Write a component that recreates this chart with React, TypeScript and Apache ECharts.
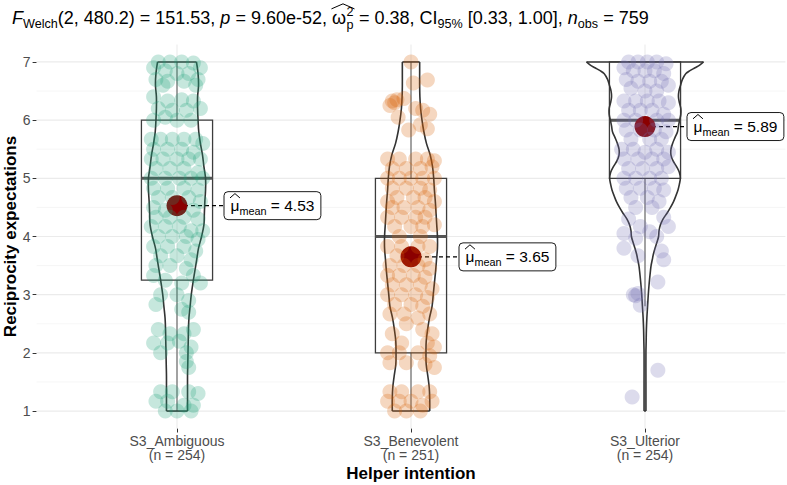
import React, { useEffect, useRef } from 'react';
import * as echarts from 'echarts';

const FONT = '"Liberation Sans", Arial, Helvetica, sans-serif';

const categories = ['S3_Ambiguous', 'S3_Benevolent', 'S3_Ulterior'];
const groupSizes = [254, 251, 254];
const groupColors = ['#1B9E77', '#D95F02', '#7570B3'];
const yTicks = [1, 2, 3, 4, 5, 6, 7];
const yMinorTicks = [1.5, 2.5, 3.5, 4.5, 5.5, 6.5];
const groupMeans = [4.53, 3.65, 5.89];

// [lower whisker, Q1, median, Q3, upper whisker]
const boxAmbiguous = [1, 3.25, 5, 6, 7];
const boxBenevolent = [1, 2, 4, 5, 7];
const boxUlterior = [2.8, 5, 6, 7, 7];

// violin half-width (category units) at each value
const violinAmbiguous = [
  [7.0, 0.083], [6.8, 0.09], [6.6, 0.092], [6.4, 0.088], [6.2, 0.088], [6.0, 0.09], [5.8, 0.093],
  [5.6, 0.1], [5.4, 0.109], [5.2, 0.115], [5.0, 0.122], [4.8, 0.122], [4.6, 0.119], [4.4, 0.117],
  [4.2, 0.115], [4.0, 0.105], [3.8, 0.092], [3.6, 0.084], [3.4, 0.076], [3.2, 0.068], [3.0, 0.061],
  [2.8, 0.056], [2.6, 0.051], [2.4, 0.049], [2.2, 0.048], [2.0, 0.047], [1.8, 0.046], [1.6, 0.045],
  [1.4, 0.045], [1.2, 0.045], [1.0, 0.045],
];
const violinBenevolent = [
  [7.0, 0.037], [6.8, 0.037], [6.6, 0.037], [6.4, 0.038], [6.2, 0.041], [6.0, 0.047], [5.8, 0.055],
  [5.6, 0.066], [5.4, 0.082], [5.2, 0.092], [5.0, 0.097], [4.8, 0.1], [4.6, 0.104], [4.4, 0.107],
  [4.2, 0.11], [4.0, 0.113], [3.8, 0.113], [3.6, 0.109], [3.4, 0.105], [3.2, 0.1], [3.0, 0.095],
  [2.8, 0.09], [2.6, 0.079], [2.4, 0.071], [2.2, 0.065], [2.0, 0.064], [1.8, 0.065], [1.6, 0.072],
  [1.4, 0.078], [1.2, 0.08], [1.0, 0.08],
];
const violinUlterior = [
  [7.0, 0.25], [6.95, 0.235], [6.9, 0.214], [6.85, 0.192], [6.8, 0.175], [6.7, 0.16], [6.6, 0.152],
  [6.5, 0.145], [6.4, 0.143], [6.3, 0.147], [6.2, 0.153], [6.1, 0.153], [6.0, 0.148], [5.9, 0.143],
  [5.8, 0.139], [5.7, 0.128], [5.6, 0.118], [5.5, 0.111], [5.4, 0.111], [5.3, 0.12], [5.2, 0.135],
  [5.1, 0.147], [5.0, 0.151], [4.9, 0.147], [4.8, 0.141], [4.7, 0.132], [4.6, 0.122], [4.5, 0.109],
  [4.4, 0.094], [4.3, 0.077], [4.2, 0.066], [4.1, 0.06], [4.0, 0.058], [3.9, 0.051], [3.8, 0.043],
  [3.7, 0.036], [3.6, 0.031], [3.5, 0.026], [3.4, 0.023], [3.2, 0.018], [3.0, 0.014], [2.8, 0.011],
  [2.6, 0.008], [2.4, 0.006], [2.2, 0.005], [2.0, 0.004], [1.5, 0.004], [1.0, 0.004],
];

// observations: [horizontal jitter (category units), value]
const pointsAmbiguous = [
  [-0.08, 7.0], [-0.03, 7.0], [0.02, 7.0], [0.07, 6.98], [0.1, 6.9], [-0.1, 6.9], [-0.05, 6.85], [0.0, 6.8],
  [0.05, 6.8], [0.09, 6.7], [-0.09, 6.7], [-0.04, 6.67], [0.03, 6.67], [0.08, 6.6], [-0.06, 6.6],
  [-0.1, 6.4], [-0.04, 6.33], [0.02, 6.35], [0.07, 6.33], [0.1, 6.2], [-0.08, 6.2], [-0.02, 6.17], [0.04, 6.17],
  [-0.1, 6.0], [0.06, 6.0], [0.0, 6.0], [-0.05, 6.05],
  [-0.11, 5.67], [-0.07, 5.67], [-0.02, 5.67], [0.03, 5.67], [0.08, 5.67], [0.11, 5.6], [-0.1, 5.5], [-0.04, 5.5],
  [0.02, 5.5], [0.07, 5.45], [-0.11, 5.33], [-0.06, 5.33], [0.0, 5.33], [0.05, 5.33], [0.1, 5.33], [-0.09, 5.17],
  [-0.03, 5.17], [0.03, 5.17], [0.09, 5.1], [-0.11, 5.0], [-0.05, 5.0], [0.01, 5.0], [0.06, 5.0], [0.11, 5.0],
  [-0.1, 4.83], [-0.04, 4.83], [0.03, 4.83], [0.09, 4.8], [-0.08, 4.67], [-0.02, 4.67], [0.05, 4.67], [0.1, 4.6],
  [-0.1, 4.5], [-0.05, 4.45], [0.07, 4.45], [-0.09, 4.33], [-0.03, 4.33], [0.03, 4.33], [0.09, 4.3], [-0.11, 4.17],
  [-0.05, 4.17], [0.01, 4.17], [0.06, 4.1], [0.11, 4.1], [-0.08, 4.0], [-0.02, 4.0], [0.04, 4.0], [0.09, 3.95],
  [-0.1, 3.83], [-0.04, 3.83], [0.03, 3.83], [0.08, 3.75], [-0.07, 3.67], [0.0, 3.67], [0.06, 3.6], [-0.09, 3.5],
  [-0.03, 3.5], [0.04, 3.45], [-0.1, 3.33], [0.07, 3.33], [-0.05, 3.25], [0.02, 3.2], [0.1, 3.2], [-0.07, 3.0],
  [0.0, 3.0], [0.05, 2.9], [-0.09, 2.83], [0.02, 2.75], [0.05, 2.7],
  [-0.08, 2.4], [-0.03, 2.33], [0.03, 2.33], [0.07, 2.4], [-0.1, 2.17], [-0.04, 2.17], [0.01, 2.2], [0.06, 2.1],
  [-0.07, 2.0], [0.04, 2.0], [0.04, 1.85], [0.05, 1.75],
  [-0.07, 1.33], [-0.02, 1.33], [0.05, 1.33], [0.09, 1.3], [-0.09, 1.17], [-0.04, 1.17], [0.03, 1.1], [0.07, 1.1],
  [-0.05, 1.0], [0.0, 1.0], [0.06, 1.0],
];
const pointsBenevolent = [
  [0.0, 7.0], [0.01, 6.64], [0.07, 6.69], [-0.08, 6.33], [-0.07, 6.3], [-0.09, 6.25], [-0.06, 6.35], [-0.03, 6.37],
  [0.02, 6.2], [0.05, 6.17], [0.08, 6.1], [-0.055, 6.05], [-0.01, 5.83], [0.07, 5.85], [0.04, 5.92],
  [-0.1, 5.33], [-0.05, 5.33], [0.02, 5.33], [0.07, 5.33], [0.1, 5.3], [-0.08, 5.17], [-0.02, 5.17], [0.04, 5.17],
  [0.09, 5.2], [-0.1, 5.0], [-0.05, 5.0], [0.0, 5.0], [0.05, 5.0], [0.1, 5.0],
  [-0.08, 4.83], [-0.02, 4.83], [0.04, 4.83], [0.08, 4.8], [-0.06, 4.67], [0.01, 4.67], [0.06, 4.67], [-0.1, 4.6],
  [0.1, 4.6], [-0.08, 4.5], [-0.03, 4.5], [0.03, 4.5], [0.08, 4.45], [-0.1, 4.33], [-0.04, 4.33], [0.02, 4.33],
  [0.06, 4.33], [-0.07, 4.17], [0.0, 4.17], [0.05, 4.17], [0.1, 4.2], [-0.05, 4.0], [0.04, 4.0],
  [-0.1, 3.83], [-0.04, 3.83], [0.03, 3.83], [0.08, 3.83], [-0.06, 3.67], [0.06, 3.6], [-0.09, 3.5], [-0.03, 3.5],
  [0.03, 3.5], [0.08, 3.45], [-0.1, 3.33], [-0.05, 3.33], [0.01, 3.33], [0.06, 3.3], [-0.08, 3.17], [-0.02, 3.17],
  [0.04, 3.17], [0.09, 3.1], [-0.1, 3.0], [-0.04, 3.0], [0.02, 3.0], [0.07, 2.95], [-0.07, 2.83], [0.0, 2.83],
  [0.05, 2.8], [-0.09, 2.67], [-0.03, 2.67], [0.03, 2.6], [0.08, 2.67],
  [-0.02, 2.5], [0.05, 2.4], [0.09, 2.33], [-0.08, 2.33], [-0.04, 2.17], [0.07, 2.17], [0.1, 2.1], [-0.1, 2.0],
  [-0.05, 2.0], [0.03, 2.0], [0.08, 1.95], [-0.09, 1.83], [-0.02, 1.83], [0.06, 1.8], [0.1, 1.75],
  [-0.09, 1.33], [-0.04, 1.33], [0.03, 1.33], [0.08, 1.33], [-0.1, 1.17], [-0.05, 1.17], [0.0, 1.17], [0.05, 1.1],
  [0.09, 1.17], [-0.07, 1.0], [-0.02, 1.0], [0.04, 1.0],
];
const pointsUlterior = [
  [-0.07, 7.0], [-0.03, 7.0], [0.01, 7.0], [0.05, 7.0], [0.09, 6.97], [-0.09, 6.9], [-0.05, 6.85], [0.0, 6.85],
  [0.04, 6.85], [0.08, 6.8], [-0.08, 6.7], [-0.03, 6.67], [0.02, 6.67], [0.07, 6.67], [0.1, 6.6], [-0.06, 6.55],
  [0.0, 6.5], [0.05, 6.5],
  [-0.09, 6.33], [-0.04, 6.33], [0.01, 6.33], [0.06, 6.33], [0.1, 6.3], [-0.07, 6.17], [-0.02, 6.17], [0.03, 6.17],
  [0.08, 6.1], [-0.09, 6.0], [-0.04, 6.0], [0.05, 6.0], [0.1, 6.0],
  [-0.08, 5.83], [-0.02, 5.83], [0.04, 5.83], [0.09, 5.8], [-0.06, 5.67], [0.02, 5.67], [0.07, 5.67],
  [-0.1, 5.5], [-0.05, 5.5], [0.0, 5.45], [0.05, 5.5], [0.1, 5.45], [-0.09, 5.33], [-0.03, 5.33], [0.03, 5.33],
  [0.08, 5.33], [-0.07, 5.17], [-0.01, 5.17], [0.05, 5.17], [0.1, 5.2], [-0.09, 5.0], [-0.04, 5.0], [0.02, 5.0],
  [0.07, 5.0],
  [-0.08, 4.83], [-0.02, 4.83], [0.04, 4.83], [0.08, 4.8], [-0.06, 4.67], [0.01, 4.67], [0.06, 4.6], [-0.04, 4.5],
  [0.03, 4.5],
  [-0.07, 4.3], [0.08, 4.33], [-0.02, 4.17], [0.1, 4.17], [-0.09, 4.05], [0.05, 4.0], [-0.04, 3.97], [0.02, 4.08],
  [-0.09, 3.8], [0.07, 3.75], [-0.03, 3.67], [0.08, 3.6],
  [0.055, 3.22], [-0.05, 3.0], [-0.04, 2.98], [-0.03, 3.02], [-0.02, 2.82], [0.055, 1.7], [-0.055, 1.24],
];

const statDf = '2, 480.2';
const statF = '151.53';
const statP = '9.60e-52';
const statOmega = '0.38';
const statCI = '[0.33, 1.00]';
const nObs = 759;

const boxes = [boxAmbiguous, boxBenevolent, boxUlterior];
const violins = [violinAmbiguous, violinBenevolent, violinUlterior];
const pointSets = [pointsAmbiguous, pointsBenevolent, pointsUlterior];
const labelNudge = [47, 48, 42];

let measureCtx: CanvasRenderingContext2D | null = null;
function textWidth(t: string, size: number, italic = false) {
  if (!measureCtx) measureCtx = document.createElement('canvas').getContext('2d');
  measureCtx!.font = `${italic ? 'italic ' : ''}${size}px ${FONT}`;
  return measureCtx!.measureText(t).width;
}

type Run = { t?: string; it?: boolean; sub?: boolean; stack?: [string, string]; hatStart?: boolean; hatEnd?: boolean };

function txt(t: string, x: number, baseline: number, s: number, italic: boolean, color: string) {
  return {
    type: 'text',
    x,
    y: baseline - 0.3465 * s,
    silent: true,
    style: {
      text: t,
      font: `${italic ? 'italic ' : ''}${s}px ${FONT}`,
      fill: color,
      align: 'left',
      verticalAlign: 'middle',
    },
  };
}

function mathElements(runs: Run[], x0: number, baseline: number, fs: number, color: string) {
  const els: any[] = [];
  let x = x0;
  let hatX0 = x0;
  for (const r of runs) {
    if (r.hatStart) hatX0 = x;
    if (r.stack) {
      const s = fs * 0.7;
      const w = Math.max(textWidth(r.stack[0], s), textWidth(r.stack[1], s));
      els.push(txt(r.stack[0], x + 0.5, baseline - fs * 0.42, s, false, color));
      els.push(txt(r.stack[1], x + 0.5, baseline + fs * 0.28, s, false, color));
      x += w + 1;
    } else {
      const s = r.sub ? fs * 0.7 : fs;
      const b = r.sub ? baseline + fs * 0.25 : baseline;
      els.push(txt(r.t || '', x, b, s, !!r.it, color));
      x += textWidth(r.t || '', s, !!r.it);
    }
    if (r.hatEnd) {
      els.push({
        type: 'polyline',
        silent: true,
        shape: {
          points: [
            [hatX0 - 0.5, baseline - fs * 0.84],
            [(hatX0 + x) / 2, baseline - fs * 1.12],
            [x + 0.5, baseline - fs * 0.84],
          ],
        },
        style: { stroke: color, lineWidth: 1, fill: 'none' },
      });
    }
  }
  return { els, width: x - x0 };
}

export default function App() {
  const ref = useRef<HTMLDivElement>(null);
  useEffect(() => {
    document.body.style.margin = '0';
    const chart = echarts.init(ref.current!, undefined, { renderer: 'svg' });

    const titleRuns: Run[] = [
      { t: 'F', it: true },
      { t: 'Welch', sub: true },
      { t: `(${statDf}) = ${statF}, ` },
      { t: 'p', it: true },
      { t: ` = ${statP}, ` },
      { t: 'ω', hatStart: true },
      { stack: ['2', 'p'], hatEnd: true },
      { t: ` = ${statOmega}, CI` },
      { t: '95%', sub: true },
      { t: ` ${statCI}, ` },
      { t: 'n', it: true },
      { t: 'obs', sub: true },
      { t: ` = ${nObs}` },
    ];
    const title = mathElements(titleRuns, 12, 24, 18, '#000');

    const gridRows: number[][] = [
      ...yTicks.map((v) => [0, v]),
      ...yMinorTicks.map((v) => [1, v]),
      ...categories.map((_, i) => [2, i + 1]),
    ];

    const option: any = {
      animation: false,
      grid: { left: 36.6, right: 1.6, top: 44.5, bottom: 56.5 },
      xAxis: {
        type: 'value',
        min: 0.4,
        max: 3.6,
        axisLine: { show: false },
        splitLine: { show: false },
        axisTick: { show: true, customValues: [1, 2, 3], length: 4, lineStyle: { color: '#333', width: 1 } },
        axisLabel: {
          customValues: [1, 2, 3],
          formatter: (v: number) => `${categories[Math.round(v) - 1]}\n(n = ${groupSizes[Math.round(v) - 1]})`,
          color: '#4D4D4D',
          fontSize: 14,
          fontFamily: FONT,
          lineHeight: 14.5,
          margin: 5,
        },
      },
      yAxis: {
        type: 'value',
        min: 0.7,
        max: 7.3,
        axisLine: { show: false },
        splitLine: { show: false },
        axisTick: { show: true, customValues: yTicks, length: 4, lineStyle: { color: '#333', width: 1 } },
        axisLabel: { customValues: yTicks, color: '#4D4D4D', fontSize: 14, fontFamily: FONT, margin: 6 },
      },
      graphic: [
        ...title.els,
        {
          type: 'text',
          x: 10,
          y: 236.5,
          rotation: Math.PI / 2,
          silent: true,
          style: {
            text: 'Reciprocity expectations',
            font: `bold 17px ${FONT}`,
            fill: '#000',
            align: 'center',
            verticalAlign: 'middle',
          },
        },
        {
          type: 'text',
          x: 411,
          y: 473,
          silent: true,
          style: { text: 'Helper intention', font: `bold 17px ${FONT}`, fill: '#000', align: 'center', verticalAlign: 'middle' },
        },
      ],
      series: [
        {
          type: 'custom',
          silent: true,
          data: gridRows,
          renderItem: (params: any, api: any) => {
            const kind = api.value(0);
            const v = api.value(1);
            if (kind === 2) {
              const a = api.coord([v, 0.7]);
              const b = api.coord([v, 7.3]);
              return { type: 'line', shape: { x1: a[0], y1: a[1], x2: b[0], y2: b[1] }, style: { stroke: '#EBEBEB', lineWidth: 1.1 } };
            }
            const a = api.coord([0.4, v]);
            const b = api.coord([3.6, v]);
            return {
              type: 'line',
              shape: { x1: a[0], y1: a[1], x2: b[0], y2: b[1] },
              style: { stroke: kind === 0 ? '#EBEBEB' : '#F2F2F2', lineWidth: kind === 0 ? 1.2 : 0.7 },
            };
          },
        },
        ...pointSets.map((pts, g) => ({
          type: 'scatter',
          silent: true,
          symbolSize: 15,
          itemStyle: { color: groupColors[g], opacity: 0.25 },
          data: pts.map(([dx, v]) => [g + 1 + dx, v]),
        })),
        {
          type: 'custom',
          silent: true,
          data: boxes.map((b, g) => [g + 1, ...b]),
          renderItem: (params: any, api: any) => {
            const cx = api.value(0);
            const lo = api.value(1), q1 = api.value(2), med = api.value(3), q3 = api.value(4), hi = api.value(5);
            const hw = 0.152;
            const tl = api.coord([cx - hw, q3]);
            const br = api.coord([cx + hw, q1]);
            const mL = api.coord([cx - hw, med]);
            const mR = api.coord([cx + hw, med]);
            const c = api.coord([cx, q3]);
            const ch = api.coord([cx, hi]);
            const c1 = api.coord([cx, q1]);
            const cl = api.coord([cx, lo]);
            return {
              type: 'group',
              children: [
                { type: 'line', shape: { x1: c[0], y1: c[1], x2: ch[0], y2: ch[1] }, style: { stroke: '#6B6B6B', lineWidth: 1.2 } },
                { type: 'line', shape: { x1: c1[0], y1: c1[1], x2: cl[0], y2: cl[1] }, style: { stroke: '#6B6B6B', lineWidth: 1.2 } },
                {
                  type: 'rect',
                  shape: { x: tl[0], y: tl[1], width: br[0] - tl[0], height: br[1] - tl[1] },
                  style: { fill: 'none', stroke: '#3D3D3D', lineWidth: 1.3 },
                },
                { type: 'line', shape: { x1: mL[0], y1: mL[1], x2: mR[0], y2: mR[1] }, style: { stroke: '#555', lineWidth: 3 } },
              ],
            };
          },
        },
        {
          type: 'custom',
          silent: true,
          data: violins.map((_, g) => [g + 1, 4]),
          renderItem: (params: any, api: any) => {
            const g = params.dataIndex;
            const cx = api.value(0);
            const prof = violins[g];
            const right = prof.map(([v, w]) => api.coord([cx + w, v]));
            const left = prof.map(([v, w]) => api.coord([cx - w, v]));
            const st = { stroke: '#333', lineWidth: 1.6, fill: 'none' };
            const n = prof.length - 1;
            return {
              type: 'group',
              children: [
                { type: 'polyline', shape: { points: right, smooth: 0.35 }, style: st },
                { type: 'polyline', shape: { points: left, smooth: 0.35 }, style: st },
                { type: 'line', shape: { x1: left[0][0], y1: left[0][1], x2: right[0][0], y2: right[0][1] }, style: st },
                { type: 'line', shape: { x1: left[n][0], y1: left[n][1], x2: right[n][0], y2: right[n][1] }, style: st },
              ],
            };
          },
        },
        {
          type: 'custom',
          silent: true,
          data: groupMeans.map((m, g) => [g + 1, m]),
          renderItem: (params: any, api: any) => {
            const g = params.dataIndex;
            const p = api.coord([api.value(0), api.value(1)]);
            const fs = 15.5;
            const pad = 6.5;
            const boxX = p[0] + labelNudge[g];
            const m = mathElements(
              [{ t: 'μ', hatStart: true, hatEnd: true }, { t: 'mean', sub: true }, { t: ` = ${groupMeans[g].toFixed(2)}` }],
              boxX + pad,
              p[1] + 5.3,
              fs,
              '#000'
            );
            const boxW = m.width + 2 * pad;
            return {
              type: 'group',
              children: [
                { type: 'line', shape: { x1: p[0], y1: p[1], x2: boxX, y2: p[1] }, style: { stroke: '#000', lineWidth: 1.3, lineDash: [4, 3] } },
                { type: 'circle', shape: { cx: p[0], cy: p[1], r: 10.5 }, style: { fill: '#8B0000' } },
                {
                  type: 'rect',
                  shape: { x: boxX, y: p[1] - 14, width: boxW, height: 28, r: 4 },
                  style: { fill: '#fff', stroke: '#000', lineWidth: 0.9 },
                },
                ...m.els,
              ],
            };
          },
        },
      ],
    };
    chart.setOption(option);
    return () => chart.dispose();
  }, []);
  return <div ref={ref} style={{ width: 787, height: 485, position: 'absolute', left: 0, top: 0 }} />;
}
